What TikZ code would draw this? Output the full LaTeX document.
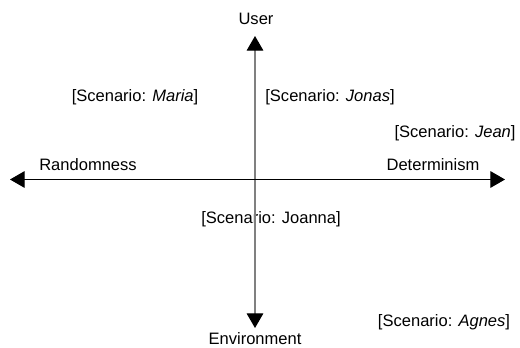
\documentclass[tikz,border=0pt]{standalone}
\usepackage{fontspec}
\setmainfont{Liberation Sans}
\usetikzlibrary{arrows.meta}
\tikzstyle{lbl}=[inner sep=0pt,font=\fontsize{12.4}{14}\selectfont]
\tikzstyle{axis} = [draw,line width=0.8pt,{Triangle[width=12.5pt,length=11pt,color=black]}-{Triangle[width=12.5pt,length=11pt,color=black]}]
\begin{document}
\begin{tikzpicture}[x=0.75pt,y=0.75pt]
    \useasboundingbox (0,0) rectangle (520,347);
    % First the ends of the two axes
    \foreach \x/\y/\name in {255/311/top, 255/19/bottom, 10/167.5/left, 505/167.5/right}
        \coordinate (\name) at (\x,\y);
    % Then the axis labels and the scenarios
    \foreach \x/\y/\name/\txt in {256/328/user/User, 255/8/env/Environment,
        88/182/rand/Randomness, 433/182/det/Determinism,
        135/250/maria/{[Scenario: \textit{Maria}]}, 330/250/jonas/{[Scenario: \textit{Jonas}]},
        455/214/jean/{[Scenario: \textit{Jean}]}, 271/128/joanna/{[Scenario: Joanna]},
        444/25/agnes/{[Scenario: \textit{Agnes}]}}
        \node[lbl] (\name) at (\x,\y) {\txt};
    % Connect the ends with the axes
    \path[axis,black!50] (bottom) -- (top);
    \path[axis,black] (left) -- (right);
\end{tikzpicture}
\end{document}
